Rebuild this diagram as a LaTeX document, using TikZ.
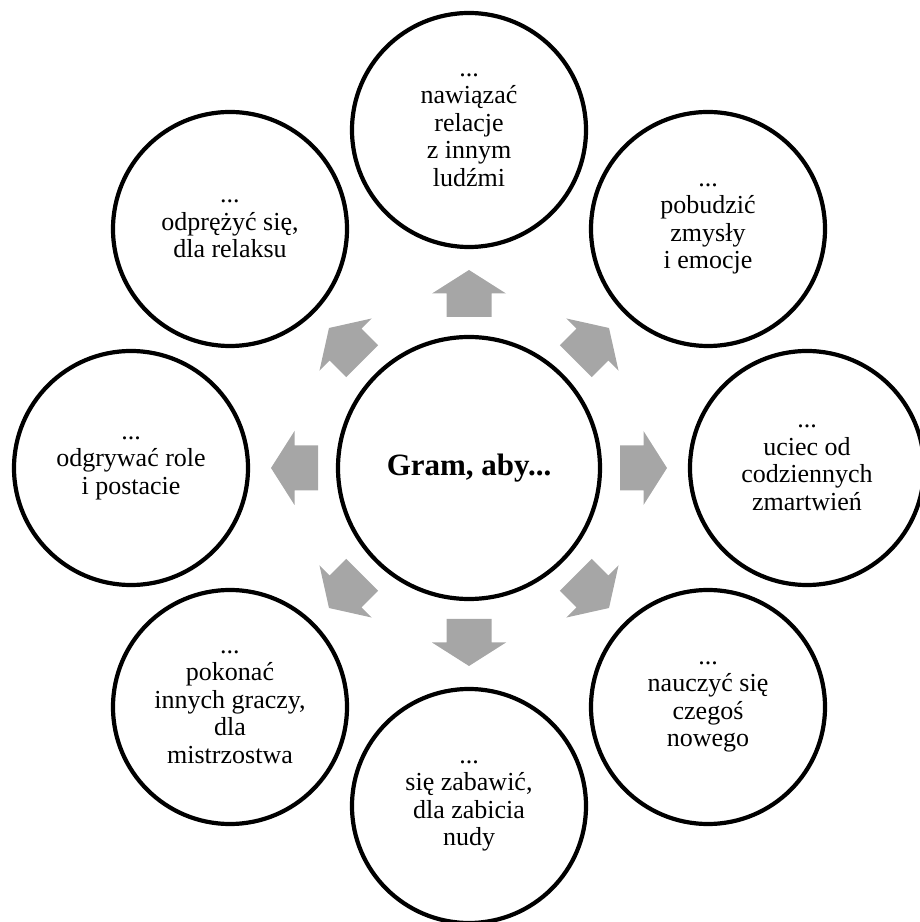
\documentclass[tikz,border=0pt]{standalone}
\usepackage{fontspec}
\setmainfont{Liberation Serif}
\usetikzlibrary{calc}
\definecolor{arrowgray}{RGB}{166,166,166}
\tikzset{
  hub/.style={circle, draw=black, line width=4.2pt, fill=white,
    minimum size=262pt, inner sep=0pt, align=center,
    font=\fontsize{31}{34}\selectfont\bfseries},
  reason/.style={circle, draw=black, line width=4.2pt, fill=white,
    minimum size=234pt, inner sep=0pt, align=center,
    font=\fontsize{26}{27.5}\selectfont},
  blockarrow/.style={fill=arrowgray, draw=none}
}
\begin{document}
\begin{tikzpicture}[x=1pt, y=1pt]
  \useasboundingbox (0,0) rectangle (920,922);
  \begin{scope}
  \clip (0,0) rectangle (920,922);
  % central circle
  \coordinate (c) at (469,454);
  \node[hub] (hub) at (c) {Gram, aby...};

  % surrounding reasons on a ring
  \path (c) ++(90:338)   node[reason] (r1) {...\\nawiązać\\relacje\\z innym\\ludźmi};
  \path (c) ++(45:338)   node[reason] (r2) {...\\pobudzić\\zmysły\\i emocje};
  \path (c) ++(0:338)    node[reason] (r3) {...\\uciec od\\codziennych\\zmartwień};
  \path (c) ++(-45:338)  node[reason] (r4) {...\\nauczyć się\\czegoś\\nowego};
  \path (c) ++(-90:338)  node[reason] (r5) {...\\się zabawić,\\dla zabicia\\nudy};
  \path (c) ++(-135:338) node[reason] (r6) {...\\pokonać\\innych graczy,\\dla\\mistrzostwa};
  \path (c) ++(180:338)  node[reason] (r7) {...\\odgrywać role\\i postacie};
  \path (c) ++(135:338)  node[reason] (r8) {...\\odprężyć się,\\dla relaksu};

  % block arrows pointing from the hub to each reason
  \foreach \a in {0,45,...,315}{
    \begin{scope}[shift={(c)}, rotate=\a]
      \fill[blockarrow] (151,-22.5) -- (174.5,-22.5) -- (174.5,-37) -- (198,0)
        -- (174.5,37) -- (174.5,22.5) -- (151,22.5) -- cycle;
    \end{scope}
  }
  \end{scope}
\end{tikzpicture}
\end{document}
